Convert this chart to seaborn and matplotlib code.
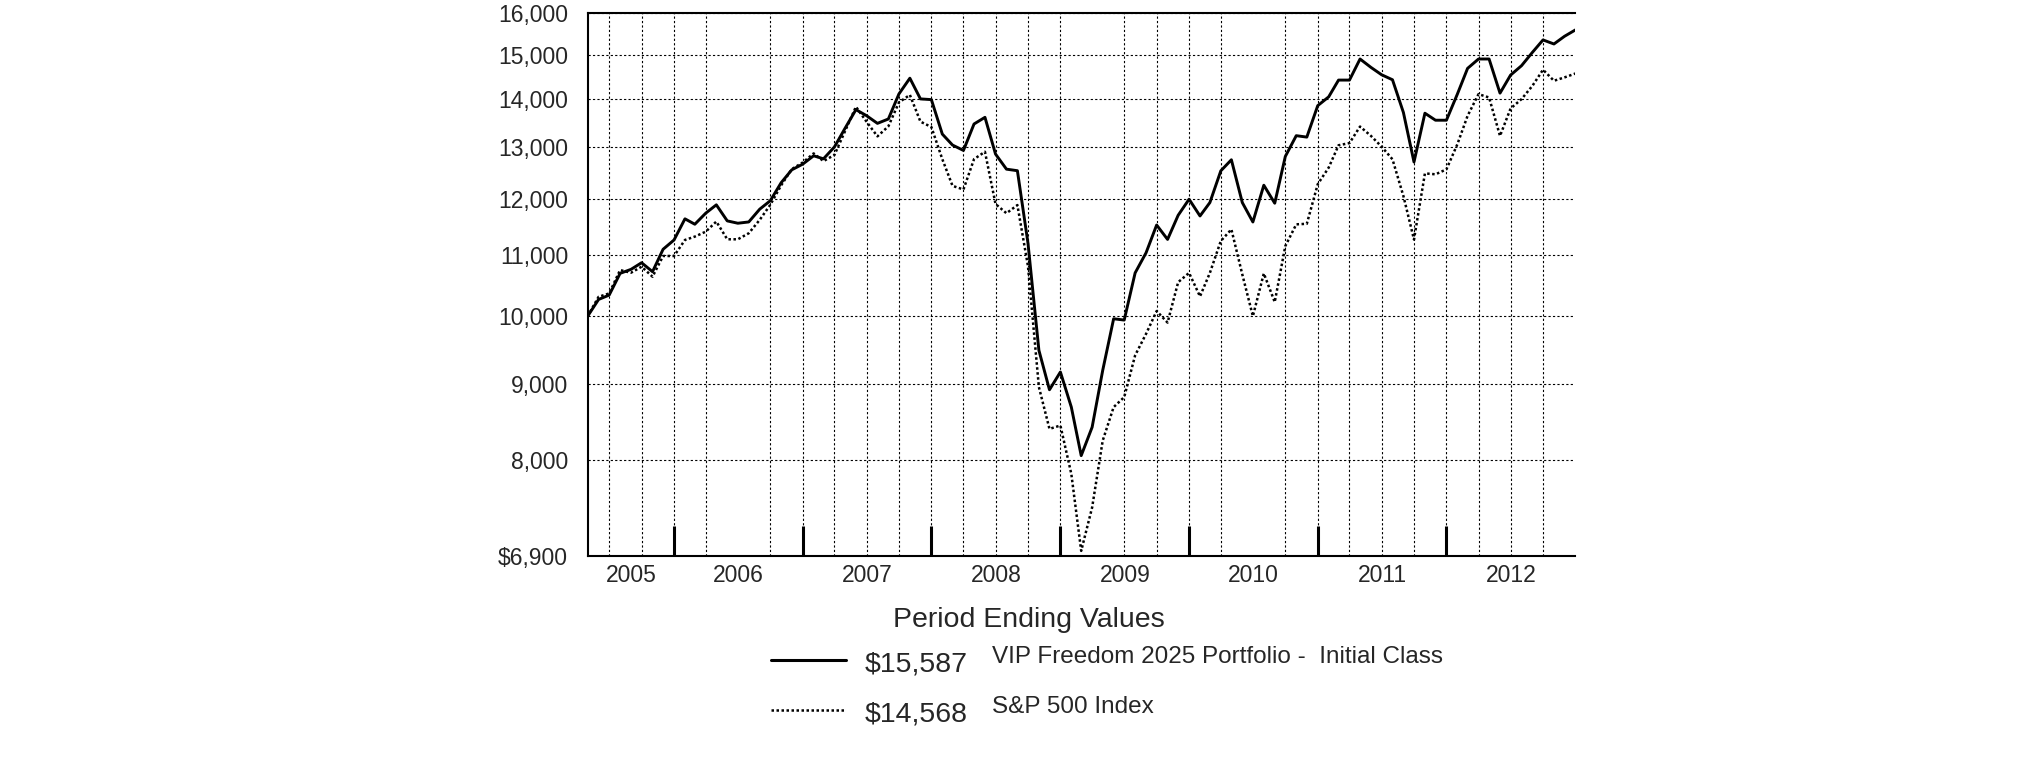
import numpy as np
import pandas as pd
import matplotlib
matplotlib.use('Agg')
import matplotlib.pyplot as plt
import matplotlib.dates as mdates
import matplotlib.ticker as mticker
from matplotlib.lines import Line2D
import seaborn as sns

# ── data: month-end values of a $10,000 investment, Apr 2005 - Dec 2012 ──
dates = pd.date_range('2005-04-01', '2012-12-01', freq='MS') + pd.offsets.MonthEnd(0)

fund = [10000, 10263, 10332, 10686, 10753, 10864, 10714, 11093, 11254, 11629,
        11532, 11732, 11884, 11592, 11550, 11573, 11804, 11960, 12300, 12547,
        12658, 12823, 12763, 13000, 13380, 13774, 13646, 13484, 13576, 14114,
        14462, 14005, 13990, 13262, 13038, 12930, 13471, 13611, 12857, 12560,
        12530, 11200, 9485, 8922, 9171, 8685, 8056, 8419, 9194, 9960,
        9940, 10694, 11033, 11518, 11264, 11693, 11988, 11681, 11926, 12527,
        12744, 11926, 11572, 12251, 11914, 12810, 13229, 13200, 13860, 14050,
        14420, 14420, 14899, 14706, 14540, 14427, 13713, 12700, 13698, 13550,
        13550, 14109, 14684, 14899, 14899, 14131, 14532, 14745, 15054, 15346,
        15250, 15433, 15587]

sp500 = [10000, 10305, 10359, 10741, 10697, 10797, 10631, 10978, 10978, 11254,
         11313, 11400, 11580, 11266, 11266, 11372, 11610, 11884, 12250, 12560,
         12690, 12870, 12718, 12840, 13320, 13836, 13520, 13215, 13422, 13929,
         14093, 13520, 13408, 12757, 12239, 12170, 12757, 12903, 11900, 11730,
         11880, 10807, 8959, 8397, 8441, 7830, 6950, 7434, 8245, 8685,
         8821, 9411, 9730, 10080, 9901, 10541, 10694, 10311, 10694, 11236,
         11441, 10668, 10000, 10685, 10222, 11148, 11530, 11540, 12271, 12590,
         13034, 13078, 13418, 13224, 13007, 12753, 12047, 11262, 12478, 12460,
         12556, 13054, 13642, 14109, 14036, 13224, 13798, 14000, 14293, 14653,
         14405, 14480, 14568]

series_names = ['VIP Freedom 2025 Portfolio -  Initial Class', 'S&P 500 Index']
end_labels = ['$15,587', '$14,568']

y_ticks = [6900, 8000, 9000, 10000, 11000, 12000, 13000, 14000, 15000, 16000]
y_labels = ['$6,900', '8,000', '9,000', '10,000', '11,000', '12,000',
            '13,000', '14,000', '15,000', '16,000']
years = [2005, 2006, 2007, 2008, 2009, 2010, 2011, 2012]
grid_dates = pd.to_datetime([
    '2005-06-30', '2005-09-30', '2005-12-31', '2006-03-31', '2006-09-30',
    '2006-12-31', '2007-03-31', '2007-06-30', '2007-09-30', '2007-12-31',
    '2008-03-31', '2008-06-30', '2008-09-30', '2008-12-31', '2009-06-30',
    '2009-09-30', '2009-12-31', '2010-03-31', '2010-09-30', '2010-12-31',
    '2011-03-31', '2011-06-30', '2011-09-30', '2011-12-31', '2012-03-31',
    '2012-06-30', '2012-09-30'])

df = pd.DataFrame({'date': list(dates) * 2,
                   'value': fund + sp500,
                   'series': [series_names[0]] * len(dates) + [series_names[1]] * len(dates)})

sns.set_style('white')
plt.rcParams['font.family'] = ['Liberation Sans', 'DejaVu Sans']

fig = plt.figure(figsize=(20.25, 7.61), dpi=100)
ax = fig.add_axes([0.2902, 0.27, 0.4878, 0.7129])

DOT = (0, (1, 1))
sns.lineplot(data=df[df.series == series_names[0]], x='date', y='value',
             color='black', lw=2.1, ax=ax, legend=False)
sns.lineplot(data=df[df.series == series_names[1]], x='date', y='value',
             color='black', lw=1.8, ax=ax, legend=False, linestyle=DOT)

ax.set_yscale('log')
ax.set_ylim(6900, 16000)
ax.set_xlim(dates[0], dates[-1])
ax.yaxis.set_major_locator(mticker.FixedLocator(y_ticks))
ax.yaxis.set_major_formatter(mticker.FixedFormatter(y_labels))
ax.yaxis.set_minor_locator(mticker.NullLocator())
ax.tick_params(axis='y', direction='out', length=9, width=2, pad=5,
               labelsize=16.5, color='black')
ax.grid(axis='y', which='major', color='black', lw=0.8, linestyle=(0, (2, 2)))

# year labels centred on the visible part of each year
lab_pos = []
for yr in years:
    a = max(pd.Timestamp(f'{yr}-01-01'), dates[0])
    b = min(pd.Timestamp(f'{yr}-12-31'), dates[-1])
    lab_pos.append(a + (b - a) / 2)
ax.xaxis.set_major_locator(mticker.FixedLocator(mdates.date2num(lab_pos)))
ax.xaxis.set_major_formatter(mticker.FixedFormatter([str(y) for y in years]))
ax.xaxis.set_minor_locator(mticker.FixedLocator(mdates.date2num(grid_dates)))
ax.tick_params(axis='x', which='both', length=0, pad=6, labelsize=16.5)
ax.grid(axis='x', which='minor', color='black', lw=0.8, linestyle=(0, (2, 2)))
ax.grid(axis='x', which='major', visible=False)

# thick year-boundary marks along the bottom
bounds = pd.to_datetime([f'{y}-12-31' for y in years[:-1]])
ax.vlines(bounds, 0, 0.055, transform=ax.get_xaxis_transform(),
          color='black', lw=2.2, zorder=5)

for s in ['top', 'left', 'bottom']:
    ax.spines[s].set_visible(True)
    ax.spines[s].set_color('black')
    ax.spines[s].set_linewidth(1.5)
ax.spines['right'].set_visible(False)
ax.set_xlabel('')
ax.set_ylabel('')

# legend block below the chart
fig.text(0.508, 0.185, 'Period Ending Values', ha='center', va='center', fontsize=20.5)
rows_y = [0.1327, 0.067]
styles = ['-', DOT]
widths = [2.2, 1.8]
for ry, st, lw, val, name in zip(rows_y, styles, widths, end_labels, series_names):
    fig.add_artist(Line2D([0.3807, 0.4178], [ry, ry], color='black', lw=lw,
                          linestyle=st, transform=fig.transFigure))
    fig.text(0.4272, ry - 0.006, val, ha='left', va='center', fontsize=20.5)
    fig.text(0.4899, ry + 0.004, name, ha='left', va='center', fontsize=17.5)

fig.savefig('out.png', dpi=100, facecolor='white')
